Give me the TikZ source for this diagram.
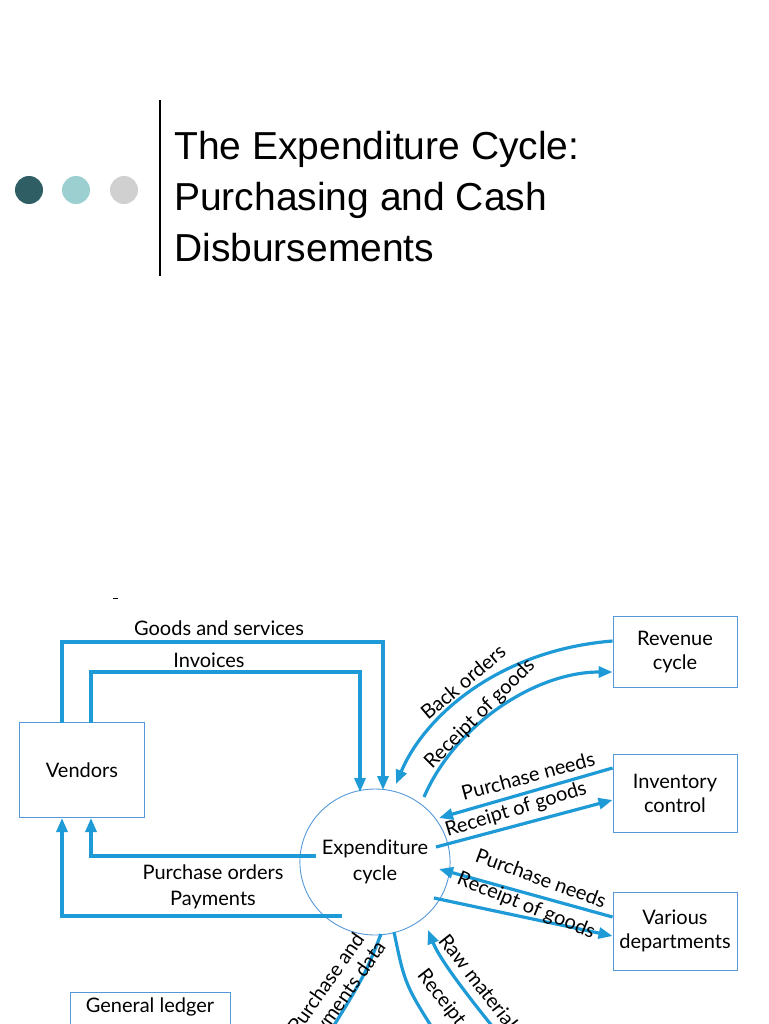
\documentclass[tikz,border=0pt]{standalone}
\usepackage{fontspec}
\setmainfont{Liberation Sans}
\newfontfamily\dfont{Lato}
\usetikzlibrary{arrows.meta,shapes.geometric}
\begin{document}
\begin{tikzpicture}[x=1pt,y=-1pt,
  box/.style={draw=cyan!60!blue!70,line width=0.9pt,minimum width=125pt,align=center,inner sep=0pt,font=\dfont\fontsize{20}{24}\selectfont},
  flow/.style={draw=flowc,line width=3.2pt,-{Triangle[length=14pt,width=11pt]}},
  lbl/.style={font=\dfont\fontsize{20}{22}\selectfont,inner sep=0pt}]
\definecolor{flowc}{HTML}{1E9AD6}
\useasboundingbox (0,0) rectangle (768,1024);
\clip (0,0) rectangle (768,1024);
% title
\draw[line width=2.2pt] (160,100) -- (160,276);
\fill[fill={rgb,255:red,47;green,95;blue,101}] (29,190) circle (14);
\fill[fill={rgb,255:red,156;green,207;blue,208}] (76,190) circle (14);
\fill[fill={rgb,255:red,208;green,208;blue,208}] (124,190) circle (14);
\node[anchor=west,align=left,font=\fontsize{39}{51}\selectfont,inner sep=0pt] (title) at (174,197) {The Expenditure Cycle:\\Purchasing and Cash\\Disbursements};
\draw[line width=0.5pt] (113,598) -- (118,598);
% nodes
\node[box,minimum width=125pt,minimum height=95pt] (ven) at (82,770) {Vendors};
\node[box,minimum width=124pt,minimum height=71pt] (rev) at (675,652) {Revenue\\cycle};
\node[box,minimum width=124pt,minimum height=78pt] (inv) at (675,793) {Inventory\\control};
\node[box,minimum width=124pt,minimum height=78pt] (var) at (675,931) {Various\\departments};
\node[box,minimum width=160pt,minimum height=70pt,anchor=north,text height=14pt] (gl) at (150,992) {\raisebox{22pt}{General ledger}};
\node[draw=cyan!60!blue!70,line width=0.9pt,ellipse,minimum width=124pt,minimum height=146pt,inner sep=0pt,align=center,font=\dfont\fontsize{20}{26}\selectfont] (exp) at (375,862) {Expenditure\\cycle};
% coordinates
\coordinate (vgs) at (62,723); \coordinate (vin) at (91,723);
\coordinate (vpo) at (91,818); \coordinate (vpa) at (62,818);
\coordinate (egs) at (383,790); \coordinate (ein) at (360,792);
\coordinate (epo) at (316,856); \coordinate (epa) at (342,916);
\coordinate (ebo) at (396,784); \coordinate (err) at (424,797);
\coordinate (epi) at (439,818); \coordinate (eri) at (436,847);
\coordinate (epv) at (439,869); \coordinate (erv) at (434,898);
\coordinate (eb1) at (381,934); \coordinate (eb2) at (394,932);
\coordinate (eb3) at (428,930);
\coordinate (out1) at (325,1040); \coordinate (out2) at (440,1040); \coordinate (out3) at (520,1060);
% flows
\draw[flow] (vgs) -- (62,642) -- (383,642) -- (egs);
\draw[flow] (vin) -- (91,672) -- (360,672) -- (ein);
\draw[flow] (epo) -- (91,856) -- (vpo);
\draw[flow] (epa) -- (62,916) -- (vpa);
\draw[flow] (rev.west|-0,641) .. controls (500,650) and (425,715) .. (ebo);
\draw[flow] (err) .. controls (455,725) and (535,672) .. (rev.west|-0,672);
\draw[flow] (inv.west|-0,768) -- (epi);
\draw[flow] (eri) -- (inv.west|-0,800);
\draw[flow] (var.west|-0,917) -- (epv);
\draw[flow] (erv) -- (var.west|-0,936);
\draw[flowc,line width=3.2pt] (eb1) .. controls (365,975) .. (out1);
\draw[flowc,line width=3.2pt] (eb2) .. controls (405,985) .. (out2);
\draw[flow] (out3) .. controls (470,1000) and (440,960) .. (eb3);
% labels
\node[lbl] (l1) at (219,628) {Goods and services};
\node[lbl] (l2) at (209,660) {Invoices};
\node[lbl] (l3) at (213,872) {Purchase orders};
\node[lbl] (l4) at (213,900) {Payments};
\node[lbl,rotate=40] (l5) at (463,682) {Back orders};
\node[lbl,rotate=45] (l6) at (480,714) {Receipt of goods};
\node[lbl,rotate=15] (l7) at (528,776) {Purchase needs};
\node[lbl,rotate=17] (l8) at (516,810) {Receipt of goods};
\node[lbl,rotate=-20] (l9) at (541,878) {Purchase needs};
\node[lbl,rotate=-22] (l10) at (526,906) {Receipt of goods};
\node[lbl,rotate=55,align=center] (l11) at (336,990) {Purchase and\\payments data};
\node[lbl,rotate=-52] (l12) at (496,1004) {Raw material needs};
\node[lbl,rotate=-52] (l13) at (466,1030) {Receipt of goods};
\end{tikzpicture}
\end{document}
